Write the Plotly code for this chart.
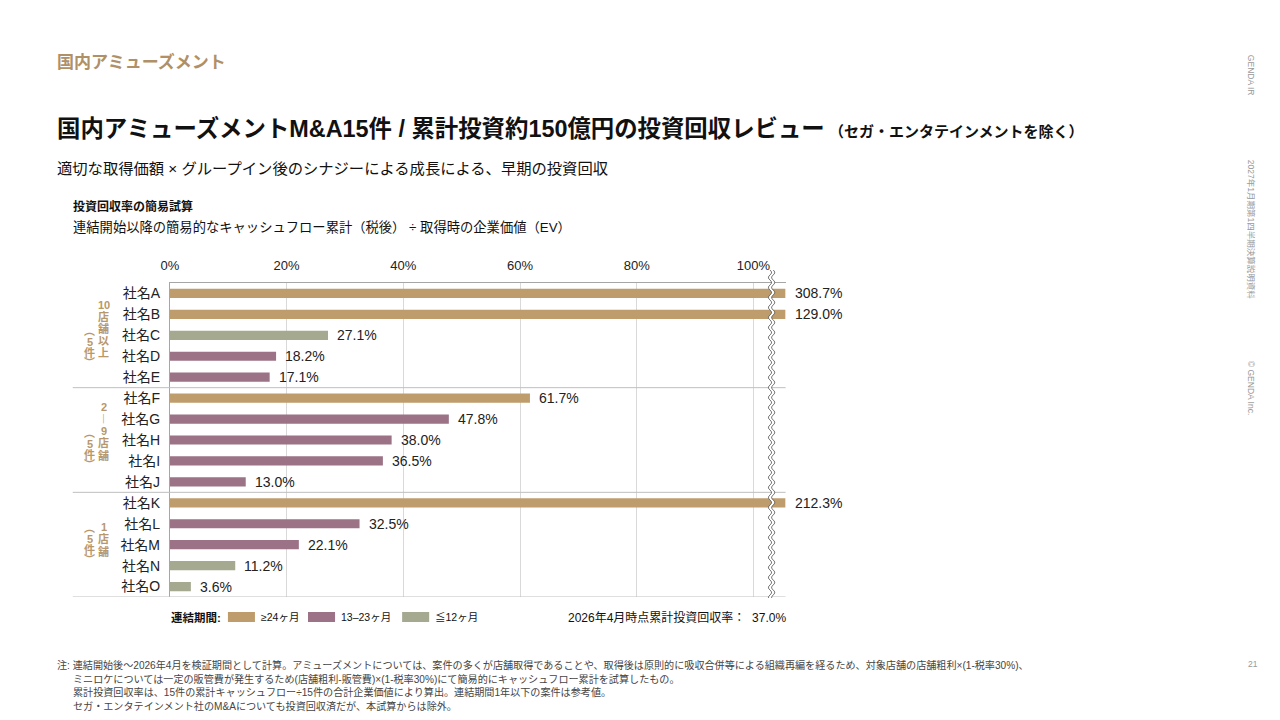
import numpy as np
import plotly.graph_objects as go

# ---------------- data ----------------
companies = ["社名A", "社名B", "社名C", "社名D", "社名E",
             "社名F", "社名G", "社名H", "社名I", "社名J",
             "社名K", "社名L", "社名M", "社名N", "社名O"]
recovery_pct = [308.7, 129.0, 27.1, 18.2, 17.1,
                61.7, 47.8, 38.0, 36.5, 13.0,
                212.3, 32.5, 22.1, 11.2, 3.6]
period_cat = ["long", "long", "short", "mid", "mid",
              "long", "mid", "mid", "mid", "mid",
              "long", "mid", "mid", "short", "short"]
period_keys = ["long", "mid", "short"]
period_labels = ["≥24ヶ月", "13–23ヶ月", "≦12ヶ月"]
x_ticks = [0, 20, 40, 60, 80, 100]
x_tick_labels = ["0%", "20%", "40%", "60%", "80%", "100%"]
group_right_cols = [["10", "店", "舗", "以", "上"],
                    ["2", "︱", "9", "店", "舗"],
                    ["1", "店", "舗"]]
group_left_cols = [["︵", "5", "件", "︶"]] * 3
total_recovery_text = "2026年4月時点累計投資回収率：  37.0%"

# ---------------- styles ----------------
OFFX, OFFY = 8, 0            # observed page offset of the figure
W, H = 1280 - 2 * OFFX, 720
FONT = "Liberation Sans, Arial, Noto Sans CJK JP, sans-serif"
colors = {"long": "#BF9C6B", "mid": "#9C7286", "short": "#A4A98F"}
TAN_TXT = "#B8976A"
XMAX = 105.5
BREAK_X = 103.1

def px(x):
    x = (x - 1.4) / 0.9917   # empirical horizontal correction
    return (x - OFFX) / W

def py(y):
    return 1 - (y - OFFY) / H

fig = go.Figure()

shown_vals = [min(v, XMAX) for v in recovery_pct]
fig.add_trace(go.Bar(
    y=companies, x=shown_vals, orientation="h",
    marker=dict(color=[colors[c] for c in period_cat], line=dict(width=0)),
    width=0.44, hoverinfo="skip", showlegend=False, cliponaxis=True,
))

annotations = []
for name, v, sv in zip(companies, recovery_pct, shown_vals):
    annotations.append(dict(
        x=sv, y=name, xref="x", yref="y", text=f"{v:.1f}%",
        showarrow=False, xanchor="left", yanchor="middle", xshift=7,
        font=dict(family=FONT, size=14, color="#222222")))

group_tops_right = [305, 407, 527]
group_tops_left = [331, 433, 528]
for g in range(3):
    for i, ch in enumerate(group_right_cols[g]):
        annotations.append(dict(
            x=px(104), y=py(group_tops_right[g] + i * 12), xref="paper", yref="paper",
            text=f"<b>{ch}</b>", showarrow=False, xanchor="center", yanchor="middle",
            font=dict(family=FONT, size=11, color=TAN_TXT)))
    for i, ch in enumerate(group_left_cols[g]):
        annotations.append(dict(
            x=px(90), y=py(group_tops_left[g] + i * 10.5), xref="paper", yref="paper",
            text=f"<b>{ch}</b>", showarrow=False, xanchor="center", yanchor="middle",
            font=dict(family=FONT, size=11, color=TAN_TXT)))

def txt(x, y, text, size, color="#111111", anchor="left", bold=False, angle=0, yanchor="middle"):
    if bold:
        text = f"<b>{text}</b>"
    annotations.append(dict(
        x=px(x), y=py(y), xref="paper", yref="paper", text=text, showarrow=False,
        xanchor=anchor, yanchor=yanchor, textangle=angle,
        font=dict(family=FONT, size=size, color=color)))

txt(55, 62, "国内アミューズメント", 17, color="#B09066", bold=True)
annotations.append(dict(
    x=px(55), y=py(128), xref="paper", yref="paper", showarrow=False,
    xanchor="left", yanchor="middle",
    text="<b>国内アミューズメントM&A15件 / 累計投資約150億円の投資回収レビュー</b>"
         "<b><span style='font-size:15px'> （セガ・エンタテインメントを除く）</span></b>",
    font=dict(family=FONT, size=23.4, color="#111111")))
txt(55, 168, "適切な取得価額 × グループイン後のシナジーによる成長による、早期の投資回収", 15.3)
txt(71, 207, "投資回収率の簡易試算", 12, bold=True)
txt(71, 227, "連結開始以降の簡易的なキャッシュフロー累計（税後） ÷ 取得時の企業価値（EV）", 13.3)

txt(169, 617, "連結期間:", 11.5, bold=True)
sw_x = [228, 308, 402]
shapes = []
for k, key in enumerate(period_keys):
    shapes.append(dict(type="rect", xref="paper", yref="paper",
                       x0=px(sw_x[k]), x1=px(sw_x[k] + 27), y0=py(622), y1=py(612),
                       fillcolor=colors[key], line=dict(width=0)))
    txt(sw_x[k] + 31, 617, period_labels[k], 10.5)
txt(787, 617, total_recovery_text, 12, anchor="right")

foot = [
    (55, 665, "注: 連結開始後～2026年4月を検証期間として計算。アミューズメントについては、案件の多くが店舗取得であることや、取得後は原則的に吸収合併等による組織再編を経るため、対象店舗の店舗粗利×(1-税率30%)、"),
    (71, 679, "ミニロケについては一定の販管費が発生するため(店舗粗利-販管費)×(1-税率30%)にて簡易的にキャッシュフロー累計を試算したもの。"),
    (71, 692, "累計投資回収率は、15件の累計キャッシュフロー÷15件の合計企業価値により算出。連結期間1年以下の案件は参考値。"),
    (71, 706, "セガ・エンタテインメント社のM&Aについても投資回収済だが、本試算からは除外。"),
]
for fx, fy, ft in foot:
    txt(fx, fy, ft, 10.1, color="#444444")

txt(1250, 75, "GENDA IR", 8.5, color="#9A9A9A", anchor="center", angle=90)
txt(1250, 229, "2027年1月期第1四半期決算説明資料", 8.5, color="#9A9A9A", anchor="center", angle=90)
txt(1250, 388, "© GENDA Inc.", 8.5, color="#9A9A9A", anchor="center", angle=90)
txt(1252, 664, "21", 8.5, color="#9A9A9A", anchor="center")

for yv in [4.5, 9.5, 14.5]:
    shapes.append(dict(type="line", xref="paper", yref="y", x0=px(73), x1=px(785),
                       y0=yv, y1=yv, line=dict(color="#BFBFBF", width=1)))

y_top, y_bot = 270, 598
ys = np.arange(y_top, y_bot + 0.5, 1.0)
amp = 1.6 * XMAX / 615
wav = amp * np.sin((ys - y_top) / 10.0 * 2 * np.pi)
half = 1.6 * XMAX / 615
left_x = BREAK_X - half + wav
right_x = BREAK_X + half + wav
def pth(xs, yy):
    return "M " + " L ".join(f"{a:.4f},{py(b):.5f}" for a, b in zip(xs, yy))
band = pth(np.concatenate([left_x, right_x[::-1]]), np.concatenate([ys, ys[::-1]])) + " Z"
shapes.append(dict(type="path", xref="x", yref="paper", path=band,
                   fillcolor="white", line=dict(width=0), layer="above"))
for xs in (left_x, right_x):
    shapes.append(dict(type="path", xref="x", yref="paper", path=pth(xs, ys),
                       line=dict(color="#555555", width=0.8), layer="above"))

fig.update_layout(
    width=W, height=H, margin=dict(l=0, r=0, t=0, b=0),
    paper_bgcolor="white", plot_bgcolor="white",
    bargap=0.5, showlegend=False,
    xaxis=dict(domain=[px(170), px(785)], range=[0, XMAX], side="top",
               tickvals=x_ticks, ticktext=x_tick_labels, ticks="",
               showgrid=True, gridcolor="#D9D9D9", gridwidth=1,
               showline=True, linecolor="#A6A6A6", linewidth=1,
               zeroline=False, fixedrange=True, ticklabelstandoff=7,
               tickfont=dict(family=FONT, size=13, color="#222222")),
    yaxis=dict(domain=[py(597), py(283)], range=[14.5, -0.5], type="category",
               categoryorder="array", categoryarray=companies,
               ticks="", showgrid=False, showline=True, linecolor="#A6A6A6", linewidth=1,
               zeroline=False, fixedrange=True, ticklabelstandoff=6,
               tickfont=dict(family=FONT, size=14, color="#222222")),
    annotations=annotations, shapes=shapes,
    font=dict(family=FONT),
)

fig.write_html("out.html")
